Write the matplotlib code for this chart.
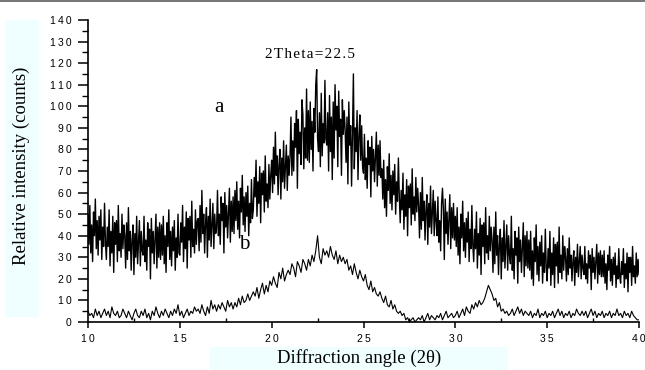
import numpy as np
import matplotlib
matplotlib.use("Agg")
import matplotlib.pyplot as plt
from matplotlib.patches import Rectangle
from matplotlib.ticker import MultipleLocator, FixedLocator

# ---- data ----
x_start_a, x_step_a = 10.0, 0.05
curve_a = [
    50,36,54,32,45,28,51,40,57,34,47,31,49,38,52,29,44,35,55,37,
    29,44,35,52,26,42,32,49,23,46,36,47,28,54,33,41,30,50,34,45,
    40,25,46,29,53,33,42,24,38,45,22,41,30,49,27,37,47,26,42,33,
    31,49,28,38,24,46,35,43,20,48,32,42,27,39,50,25,44,30,46,29,
    45,31,49,27,40,23,46,35,52,29,42,26,44,33,47,24,39,30,50,32,
    31,46,37,54,28,44,34,51,25,48,38,49,30,56,35,43,32,52,36,47,
    48,33,54,37,61,41,50,32,46,53,30,49,38,57,35,45,55,34,50,41,
    43,61,40,50,36,58,47,55,32,60,44,54,39,51,62,37,56,42,58,41,
    61,47,65,43,56,39,62,51,68,45,58,42,60,49,63,40,55,46,66,48,
    52,67,58,75,49,65,55,72,46,69,59,70,51,77,56,64,53,73,57,68,
    75,60,81,64,88,68,77,59,73,80,57,76,65,84,62,72,82,61,77,68,
    77,95,68,84,70,92,81,98,62,94,78,88,73,103,96,71,90,76,108,75,
    98,74,102,80,93,70,99,88,110,117,85,79,97,72,106,77,92,83,112,85,
    82,97,70,105,79,95,66,102,76,110,89,100,72,107,86,94,68,103,87,98,
    89,74,95,64,102,82,91,63,87,115,71,90,79,98,66,86,96,75,91,72,
    69,87,66,76,62,84,73,81,58,86,70,80,65,77,88,63,82,68,84,67,
    71,57,75,53,66,49,72,61,78,55,68,52,70,59,73,50,65,56,76,58,
    46,61,52,69,43,59,49,66,40,63,53,64,45,71,50,58,47,67,51,62,
    54,39,60,43,67,47,56,38,52,59,36,55,44,63,41,51,61,40,56,47,
    40,58,37,47,33,55,62,52,29,57,41,51,36,48,59,34,53,39,55,38,
    49,35,53,31,44,27,50,39,56,33,46,30,48,37,51,28,43,34,54,36,
    28,43,34,51,25,41,31,48,22,45,35,46,27,53,32,40,29,49,33,44,
    38,23,44,27,51,31,40,22,36,43,20,39,28,47,25,35,45,24,40,31,
    27,49,24,34,20,42,31,39,18,44,28,38,23,35,46,21,40,26,42,25,
    38,24,42,20,33,17,39,28,45,22,35,19,37,26,40,18,32,23,43,25,
    19,34,25,42,17,32,22,39,16,36,26,37,18,44,23,31,20,40,24,35,
    30,19,34,22,39,25,31,19,28,33,17,30,23,36,21,28,35,20,31,25,
    22,35,20,27,18,33,25,31,15,34,23,30,20,28,36,18,32,22,33,21,
    31,21,33,18,27,15,31,24,35,19,29,17,30,22,32,16,26,20,34,21,
    18,28,22,34,16,27,20,32,14,30,23,30,17,35,21,26,18,32,21,29,
    22,
]

x_start_b, x_step_b = 10.0, 0.1
curve_b = [
    5,3,4,2,6,3,5,2,4,6,
    3,5,2,7,4,3,5,2,3,6,
    4,2,5,3,1,4,6,3,2,5,
    3,6,2,4,1,5,3,7,4,2,
    5,3,6,4,2,5,3,6,4,8,
    3,5,2,4,6,3,5,4,7,5,
    6,4,8,5,3,7,4,10,6,8,
    5,8,6,9,7,5,10,7,9,6,
    9,7,11,8,12,9,10,13,10,12,
    14,12,16,11,15,18,13,17,14,19,
    17,21,18,16,23,20,25,19,22,24,
    22,27,25,21,28,26,23,29,27,24,
    29,26,31,28,33,40,30,27,34,31,
    33,30,35,31,29,33,27,31,28,30,
    27,29,24,26,22,27,23,20,24,21,
    19,22,17,15,19,14,16,13,12,14,
    11,9,12,8,7,10,6,8,5,4,
    5,3,4,1,2,0,1,2,0,1,
    2,1,3,0,2,4,1,3,2,1,
    3,2,4,1,3,5,2,3,4,2,
    3,5,2,4,6,3,7,5,4,8,
    6,9,7,10,8,9,11,14,17,15,
    13,10,11,7,9,5,6,4,5,3,
    4,6,3,5,7,4,6,3,5,4,
    3,5,2,4,3,6,2,4,3,5,
    2,4,3,5,2,4,6,3,5,2,
    4,3,5,2,4,3,6,4,3,5,
    3,5,2,4,6,3,5,2,4,3,
    5,2,4,3,5,2,4,3,6,3,
    4,2,5,3,4,2,5,3,2,1,
    1,
]

x_ticks = [10, 15, 20, 25, 30, 35, 40]
y_ticks = list(range(0, 141, 10))
x_label = "Diffraction angle (2θ)"
y_label = "Relative intensity (counts)"
annot_peak = "2Theta=22.5"

# ---- figure ----
W, H = 645, 370
fig = plt.figure(figsize=(W / 100, H / 100), dpi=100)

def fx(px):
    return px / W

def fy(py):
    return 1 - py / H

# background boxes
fig.patches.append(Rectangle((fx(5), fy(317)), fx(39) - fx(5), fy(20) - fy(317),
                             transform=fig.transFigure, facecolor="#effefe",
                             edgecolor="none", zorder=0))
fig.patches.append(Rectangle((fx(210), fy(370)), fx(508) - fx(210), fy(347) - fy(370),
                             transform=fig.transFigure, facecolor="#effefe",
                             edgecolor="none", zorder=0))
fig.patches.append(Rectangle((0, fy(2)), 1, fy(0) - fy(2),
                             transform=fig.transFigure, facecolor="#777777",
                             edgecolor="none", zorder=0))

ax = fig.add_axes([fx(88), fy(322), fx(639) - fx(88), fy(20) - fy(322)])
ax.patch.set_alpha(0)

xa = x_start_a + x_step_a * np.arange(len(curve_a))
xb = x_start_b + x_step_b * np.arange(len(curve_b))
ax.plot(xa, curve_a, color="black", lw=1.0)
ax.plot(xb, curve_b, color="black", lw=0.8)

ax.set_xlim(10, 40)
ax.set_ylim(0, 140)
for s in ("top", "right"):
    ax.spines[s].set_visible(False)
ax.spines["left"].set_linewidth(1.2)
ax.spines["bottom"].set_linewidth(1.2)

sp = "\u2009"
ax.xaxis.set_major_locator(FixedLocator(x_ticks))
ax.set_xticklabels([sp.join(str(t)) for t in x_ticks])
ax.xaxis.set_minor_locator(MultipleLocator(2.5))
ax.yaxis.set_major_locator(FixedLocator(y_ticks))
ax.set_yticklabels([sp.join(str(t)) for t in y_ticks])
ax.yaxis.set_minor_locator(MultipleLocator(5))

ax.tick_params(axis="y", which="major", direction="out", length=7, width=1.1, pad=5)
ax.tick_params(axis="y", which="minor", direction="out", length=4, width=1.0)
ax.tick_params(axis="x", which="major", direction="out", length=4.5, width=1.1, pad=4)
ax.tick_params(axis="x", which="minor", direction="in", length=3, width=1.0)
for lab in ax.get_xticklabels() + ax.get_yticklabels():
    lab.set_fontfamily(["Liberation Sans", "DejaVu Sans"])
    lab.set_fontsize(7.5)

serif = ["Liberation Serif", "DejaVu Serif"]
fig.text(fx(21), fy(166), y_label, rotation=90, ha="center", va="center",
         fontsize=13.5, family=serif)
fig.text(fx(359), fy(358), x_label, ha="center", va="center",
         fontsize=13.5, family=serif)

ax.text(22.08, 122.4, "\u200a".join(annot_peak), ha="center", va="baseline",
        fontsize=11, family=serif)
ax.text(17.13, 97.4, "a", ha="center", va="baseline", fontsize=15, family=serif)
ax.text(18.49, 33.8, "b", ha="center", va="baseline", fontsize=15, family=serif)

fig.savefig("out.png", dpi=100)
